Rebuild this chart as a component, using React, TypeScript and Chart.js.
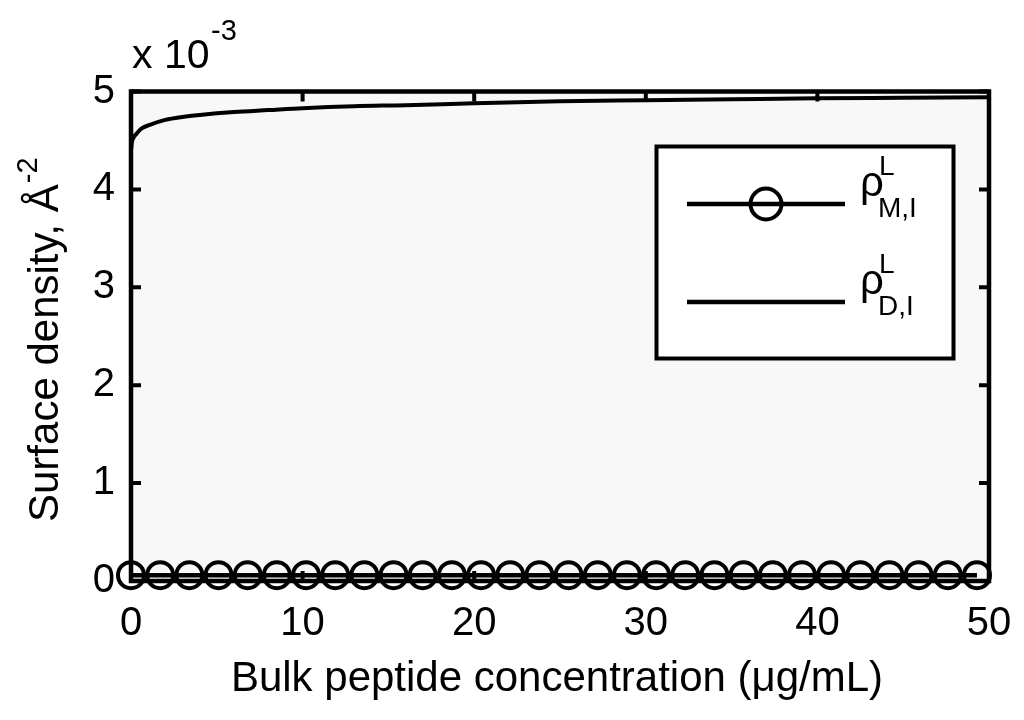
import React, { useEffect, useRef } from "react";
import { Chart, registerables } from "chart.js";

Chart.register(...registerables);

// Bulk peptide concentration (µg/mL) for the circle-marked series
const monomerX = [0, 1.7, 3.4, 5.1, 6.8, 8.5, 10.2, 11.9, 13.6, 15.3, 17.0, 18.7, 20.4, 22.1, 23.8, 25.5, 27.2, 28.9, 30.6, 32.3, 34.0, 35.7, 37.4, 39.1, 40.8, 42.5, 44.2, 45.9, 47.6, 49.3];
// surface density (Å^-2)
const monomerY = [0.00006, 0.00006, 0.00006, 0.00006, 0.00006, 0.00006, 0.00006, 0.00006, 0.00006, 0.00006, 0.00006, 0.00006, 0.00006, 0.00006, 0.00006, 0.00006, 0.00006, 0.00006, 0.00006, 0.00006, 0.00006, 0.00006, 0.00006, 0.00006, 0.00006, 0.00006, 0.00006, 0.00006, 0.00006, 0.00006];

const dimerX = [0, 0.05, 0.15, 0.33, 0.6, 1.1, 2, 3, 4, 6, 8, 10, 13, 16, 20, 25, 30, 35, 40, 45, 50];
const dimerY = [0.00440, 0.00448, 0.00453, 0.00457, 0.00462, 0.00466, 0.00471, 0.00474, 0.00476, 0.00479, 0.00481, 0.00483, 0.00485, 0.00486, 0.00488, 0.00490, 0.00491, 0.00492, 0.00493, 0.004935, 0.00494];

const xTickValues = [0, 10, 20, 30, 40, 50];
const yTickValues = [0, 0.001, 0.002, 0.003, 0.004, 0.005];

const FONT = "'Liberation Sans', Arial, Helvetica, sans-serif";

const decorPlugin = {
  id: "decor",
  beforeDraw(chart: any) {
    const { ctx, chartArea: a } = chart;
    ctx.save();
    ctx.fillStyle = "#ffffff";
    ctx.fillRect(0, 0, chart.width, chart.height);
    ctx.fillStyle = "#f8f8f8";
    ctx.fillRect(a.left, a.top, a.right - a.left, a.bottom - a.top);
    ctx.restore();
  },
  beforeDatasetsDraw(chart: any) {
    const { ctx, chartArea: a, scales } = chart;
    ctx.save();
    ctx.strokeStyle = "#000";
    ctx.lineWidth = 4.5;
    ctx.lineCap = "butt";
    ctx.strokeRect(a.left, a.top, a.right - a.left, a.bottom - a.top);
    const tl = 10;
    ctx.lineWidth = 4;
    ctx.beginPath();
    xTickValues.forEach((v) => {
      const px = scales.x.getPixelForValue(v);
      ctx.moveTo(px, a.top);
      ctx.lineTo(px, a.top + tl);
      ctx.moveTo(px, a.bottom);
      ctx.lineTo(px, a.bottom - tl);
    });
    yTickValues.forEach((v) => {
      const py = scales.y.getPixelForValue(v);
      ctx.moveTo(a.left, py);
      ctx.lineTo(a.left + tl, py);
      ctx.moveTo(a.right, py);
      ctx.lineTo(a.right - tl, py);
    });
    ctx.stroke();
    ctx.restore();
  },
  afterDraw(chart: any) {
    const { ctx } = chart;
    ctx.save();
    ctx.fillStyle = "#000";
    ctx.textAlign = "left";
    ctx.textBaseline = "alphabetic";

    // exponent label
    ctx.font = `41px ${FONT}`;
    ctx.fillText("x 10", 132, 68);
    ctx.font = `29px ${FONT}`;
    ctx.fillText("-3", 211, 40);

    // x title
    ctx.font = `42px ${FONT}`;
    ctx.textAlign = "center";
    ctx.fillText("Bulk peptide concentration (\u03BCg/mL)", 557, 691);

    // y title
    ctx.save();
    ctx.translate(58, 522);
    ctx.rotate(-Math.PI / 2);
    ctx.textAlign = "left";
    ctx.font = `42px ${FONT}`;
    const main = "Surface density, \u00C5";
    ctx.fillText(main, 0, 0);
    const w = ctx.measureText(main).width;
    ctx.font = `29px ${FONT}`;
    ctx.fillText("-2", w + 1, -21);
    ctx.restore();

    // legend
    ctx.fillStyle = "#ffffff";
    ctx.fillRect(656, 146, 298, 213);
    ctx.strokeStyle = "#000";
    ctx.lineWidth = 4;
    ctx.strokeRect(656.5, 146.5, 297, 212);

    ctx.lineWidth = 4.5;
    ctx.beginPath();
    ctx.moveTo(687, 204);
    ctx.lineTo(845, 204);
    ctx.moveTo(687, 302);
    ctx.lineTo(845, 302);
    ctx.stroke();
    ctx.lineWidth = 4;
    ctx.beginPath();
    ctx.arc(766, 204, 15.5, 0, Math.PI * 2);
    ctx.stroke();

    ctx.fillStyle = "#000";
    ctx.textAlign = "left";
    const rows = [
      { sub: "M,I", base: 196 },
      { sub: "D,I", base: 294 },
    ];
    rows.forEach((r) => {
      ctx.font = `42px ${FONT}`;
      ctx.fillText("\u03C1", 860, r.base);
      ctx.font = `28px ${FONT}`;
      ctx.fillText("L", 879, r.base - 21);
      ctx.fillText(r.sub, 878, r.base + 21);
    });
    ctx.restore();
  },
};

export default function App() {
  const ref = useRef<HTMLCanvasElement | null>(null);

  useEffect(() => {
    if (!ref.current) return;
    const chart = new Chart(ref.current, {
      type: "line",
      data: {
        datasets: [
          {
            label: "M",
            data: monomerX.map((x, i) => ({ x, y: monomerY[i] })),
            borderColor: "#000",
            borderWidth: 4.5,
            pointRadius: 13,
            pointBorderWidth: 4,
            pointBorderColor: "#000",
            pointBackgroundColor: "rgba(0,0,0,0)",
            pointStyle: "circle",
            clip: false as any,
            tension: 0,
          },
          {
            label: "D",
            data: dimerX.map((x, i) => ({ x, y: dimerY[i] })),
            borderColor: "#000",
            borderWidth: 4,
            pointRadius: 0,
            cubicInterpolationMode: "monotone",
            clip: false as any,
          },
        ],
      },
      options: {
        responsive: false,
        animation: false,
        devicePixelRatio: 1,
        layout: { padding: { top: 91.5, right: 35, left: 0, bottom: 0 } },
        plugins: { legend: { display: false }, tooltip: { enabled: false }, title: { display: false } },
        scales: {
          x: {
            type: "linear",
            min: 0,
            max: 50,
            grid: { display: false },
            border: { display: false },
            ticks: {
              stepSize: 10,
              padding: 11,
              color: "#000",
              font: { family: FONT, size: 40 },
              maxRotation: 0,
            },
            afterFit: (s: any) => {
              s.height = 139;
            },
          },
          y: {
            type: "linear",
            min: 0,
            max: 0.005,
            grid: { display: false },
            border: { display: false },
            ticks: {
              stepSize: 0.001,
              padding: 8,
              color: "#000",
              font: { family: FONT, size: 40 },
              callback: (v: any) => String(Math.round(Number(v) * 1000)),
            },
            afterFit: (s: any) => {
              s.width = 131;
            },
          },
        },
      },
      plugins: [decorPlugin],
    });
    return () => chart.destroy();
  }, []);

  return (
    <div style={{ position: "absolute", left: 0, top: 0, width: 1024, height: 720 }}>
      <canvas ref={ref} width={1024} height={720} style={{ display: "block", width: 1024, height: 720 }} />
    </div>
  );
}
